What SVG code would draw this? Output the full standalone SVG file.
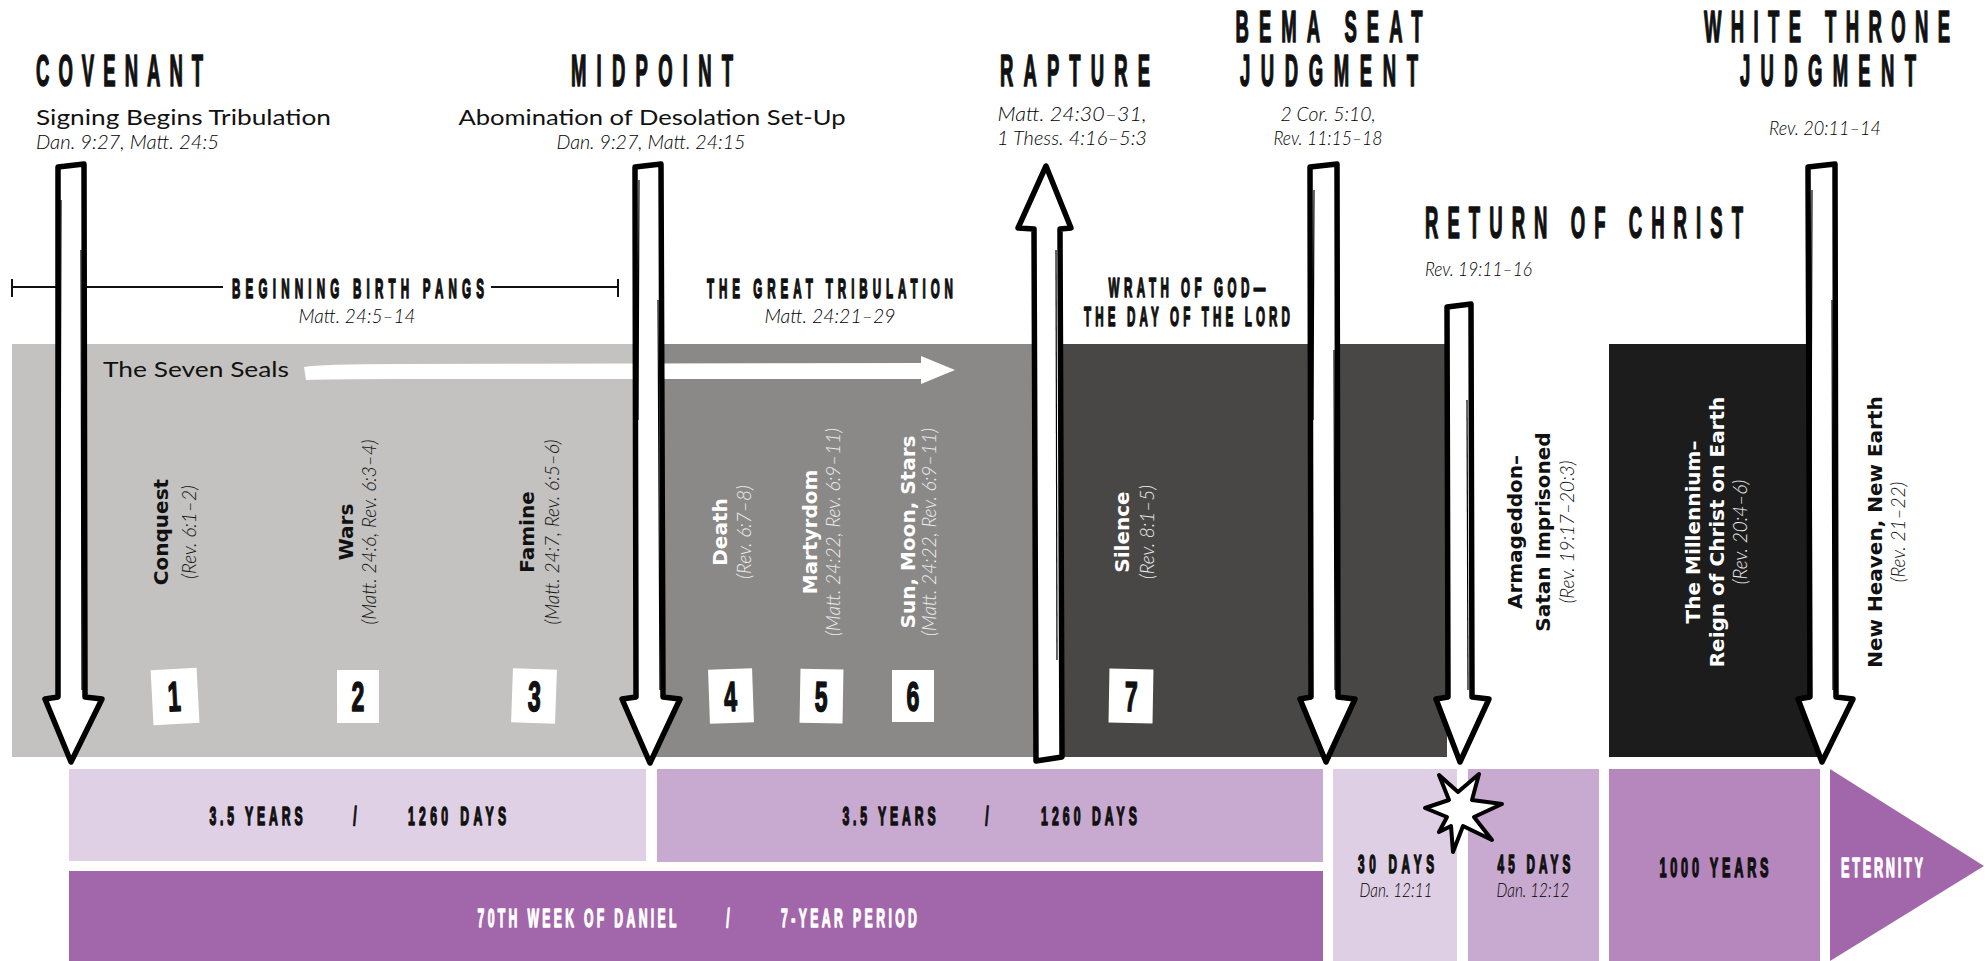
<svg xmlns="http://www.w3.org/2000/svg" width="1988" height="961" viewBox="0 0 1988 961">
<style>
.cond{font-family:"Liberation Sans",Arial,sans-serif;font-weight:700;fill:#111;stroke:#111;stroke-width:1.6;stroke-linejoin:round}
.condw{font-family:"Liberation Sans",Arial,sans-serif;font-weight:700;fill:#fff;stroke:#fff;stroke-width:1.4;stroke-linejoin:round}
.sub{font-family:Lato,"Liberation Sans",Arial,sans-serif;font-size:22px;fill:#111}
.ref{font-family:Lato,"Liberation Sans",Arial,sans-serif;font-style:italic;font-weight:300;font-size:19.5px;fill:#000}
.lbl{font-family:"DejaVu Sans",sans-serif;font-weight:700;font-size:20px;fill:#111}
.lblw{font-family:"DejaVu Sans",sans-serif;font-weight:700;font-size:20px;fill:#fff}
.rref{font-family:Lato,"Liberation Sans",Arial,sans-serif;font-style:italic;font-weight:300;font-size:19px;fill:#111}
.rrefw{font-family:Lato,"Liberation Sans",Arial,sans-serif;font-style:italic;font-weight:300;font-size:19px;fill:#eee}
.arrow{fill:#fff;stroke:#000;stroke-width:5.5;stroke-linejoin:round}
.sketch{fill:none;stroke:#000;stroke-width:1.2}
.box{fill:#fff}
</style>

<!-- bands -->
<g id="bands">
<rect x="12" y="344" width="640" height="413" fill="#c3c2c0"/>
<rect x="650" y="344" width="400" height="413" fill="#8a8988"/>
<rect x="1048" y="344" width="399" height="413" fill="#484746"/>
<rect x="1609" y="344" width="213" height="413" fill="#1c1c1c"/>
</g>

<!-- header brackets -->
<g id="birth-pangs">
<path d="M12,287 H223 M491,287 H618 M12,279 V297 M618,279 V297" stroke="#111" stroke-width="2" fill="none"/>
<text class="cond" font-size="27" text-anchor="middle" transform="translate(358,298) scale(0.43,1)" textLength="586" lengthAdjust="spacing">BEGINNING BIRTH PANGS</text>
<text class="ref" x="357" y="323" text-anchor="middle" textLength="117" lengthAdjust="spacingAndGlyphs">Matt. 24:5–14</text>
</g>
<g id="great-tribulation">
<text class="cond" font-size="27" text-anchor="middle" transform="translate(830,298) scale(0.43,1)" textLength="572" lengthAdjust="spacing">THE GREAT TRIBULATION</text>
<text class="ref" x="830" y="323" text-anchor="middle" textLength="131" lengthAdjust="spacingAndGlyphs">Matt. 24:21–29</text>
</g>
<g id="wrath">
<text class="cond" font-size="27" text-anchor="middle" transform="translate(1187,297) scale(0.43,1)" textLength="365" lengthAdjust="spacing">WRATH OF GOD—</text>
<text class="cond" font-size="27" text-anchor="middle" transform="translate(1187,326) scale(0.43,1)" textLength="479" lengthAdjust="spacing">THE DAY OF THE LORD</text>
</g>

<!-- seven seals -->
<g id="seven-seals">
<text class="sub" x="103" y="377" textLength="186" lengthAdjust="spacingAndGlyphs">The Seven Seals</text>
<path d="M304,367 Q320,364 400,364 L921,363 L921,356 L955,370 L921,384 L921,379 L400,379 Q330,379 306,380 Z" fill="#fff"/>
</g>

<!-- seal labels -->
<g id="seal-1">
<text class="lbl" text-anchor="middle" transform="translate(168,532) rotate(-90)">Conquest</text>
<text class="rref" text-anchor="middle" transform="translate(196,532) rotate(-90)">(Rev. 6:1–2)</text>
<rect class="box" x="152" y="669" width="46" height="55" transform="rotate(-3 175 696)"/>
<text class="cond" font-size="42" text-anchor="middle" transform="translate(175,711) rotate(-3) scale(0.55,1)">1</text>
</g>
<g id="seal-2">
<text class="lbl" text-anchor="middle" transform="translate(353,532) rotate(-90)">Wars</text>
<text class="rref" text-anchor="middle" transform="translate(376,532) rotate(-90)">(Matt. 24:6, Rev. 6:3–4)</text>
<rect class="box" x="337" y="670" width="42" height="53"/>
<text class="cond" font-size="42" text-anchor="middle" transform="translate(358,711) scale(0.55,1)">2</text>
</g>
<g id="seal-3">
<text class="lbl" text-anchor="middle" transform="translate(534,532) rotate(-90)">Famine</text>
<text class="rref" text-anchor="middle" transform="translate(559,532) rotate(-90)">(Matt. 24:7, Rev. 6:5–6)</text>
<rect class="box" x="512" y="669" width="44" height="54" transform="rotate(2 534 696)"/>
<text class="cond" font-size="42" text-anchor="middle" transform="translate(534,711) rotate(2) scale(0.55,1)">3</text>
</g>
<g id="seal-4">
<text class="lblw" text-anchor="middle" transform="translate(727,532) rotate(-90)">Death</text>
<text class="rrefw" text-anchor="middle" transform="translate(751,532) rotate(-90)">(Rev. 6:7–8)</text>
<rect class="box" x="709" y="669" width="44" height="54" transform="rotate(-2 731 696)"/>
<text class="cond" font-size="42" text-anchor="middle" transform="translate(731,711) rotate(-2) scale(0.55,1)">4</text>
</g>
<g id="seal-5">
<text class="lblw" text-anchor="middle" transform="translate(817,532) rotate(-90)">Martyrdom</text>
<text class="rrefw" text-anchor="middle" transform="translate(840,532) rotate(-90)">(Matt. 24:22, Rev. 6:9–11)</text>
<rect class="box" x="800" y="669" width="43" height="54" transform="rotate(1 821 696)"/>
<text class="cond" font-size="42" text-anchor="middle" transform="translate(821,711) rotate(1) scale(0.55,1)">5</text>
</g>
<g id="seal-6">
<text class="lblw" text-anchor="middle" transform="translate(915,532) rotate(-90)">Sun, Moon, Stars</text>
<text class="rrefw" text-anchor="middle" transform="translate(936,532) rotate(-90)">(Matt. 24:22, Rev. 6:9–11)</text>
<rect class="box" x="892" y="670" width="42" height="52"/>
<text class="cond" font-size="42" text-anchor="middle" transform="translate(913,711) scale(0.55,1)">6</text>
</g>
<g id="seal-7">
<text class="lblw" text-anchor="middle" transform="translate(1129,532) rotate(-90)">Silence</text>
<text class="rrefw" text-anchor="middle" transform="translate(1154,532) rotate(-90)">(Rev. 8:1–5)</text>
<rect class="box" x="1109" y="669" width="44" height="54" transform="rotate(1 1131 696)"/>
<text class="cond" font-size="42" text-anchor="middle" transform="translate(1131,711) rotate(1) scale(0.55,1)">7</text>
</g>
<g id="armageddon">
<text class="lbl" text-anchor="middle" transform="translate(1522,532) rotate(-90)">Armageddon–</text>
<text class="lbl" text-anchor="middle" transform="translate(1550,532) rotate(-90)">Satan Imprisoned</text>
<text class="rref" text-anchor="middle" transform="translate(1574,532) rotate(-90)">(Rev. 19:17–20:3)</text>
</g>
<g id="millennium">
<text class="lblw" text-anchor="middle" transform="translate(1700,532) rotate(-90)">The Millennium–</text>
<text class="lblw" text-anchor="middle" transform="translate(1724,532) rotate(-90)">Reign of Christ on Earth</text>
<text class="rrefw" text-anchor="middle" transform="translate(1747,532) rotate(-90)">(Rev. 20:4–6)</text>
</g>
<g id="new-heaven">
<text class="lbl" text-anchor="middle" transform="translate(1882,532) rotate(-90)">New Heaven, New Earth</text>
<text class="rref" text-anchor="middle" transform="translate(1905,532) rotate(-90)">(Rev. 21–22)</text>
</g>

<!-- titles -->
<g id="covenant">
<text class="cond" font-size="44" transform="translate(36,86) scale(0.42,1)" textLength="398" lengthAdjust="spacing">COVENANT</text>
<text class="sub" x="36" y="125" textLength="295" lengthAdjust="spacingAndGlyphs">Signing Begins Tribulation</text>
<text class="ref" x="36" y="149" textLength="183" lengthAdjust="spacingAndGlyphs">Dan. 9:27, Matt. 24:5</text>
</g>
<g id="midpoint">
<text class="cond" font-size="44" text-anchor="middle" transform="translate(652,86) scale(0.42,1)" textLength="386" lengthAdjust="spacing">MIDPOINT</text>
<text class="sub" x="652" y="125" text-anchor="middle" textLength="387" lengthAdjust="spacingAndGlyphs">Abomination of Desolation Set-Up</text>
<text class="ref" x="651" y="149" text-anchor="middle" textLength="189" lengthAdjust="spacingAndGlyphs">Dan. 9:27, Matt. 24:15</text>
</g>
<g id="rapture">
<text class="cond" font-size="44" text-anchor="middle" transform="translate(1075,86) scale(0.42,1)" textLength="357" lengthAdjust="spacing">RAPTURE</text>
<text class="ref" x="1072" y="121" text-anchor="middle" textLength="149" lengthAdjust="spacingAndGlyphs">Matt. 24:30–31,</text>
<text class="ref" x="1072" y="145" text-anchor="middle" textLength="150" lengthAdjust="spacingAndGlyphs">1 Thess. 4:16–5:3</text>
</g>
<g id="bema">
<text class="cond" font-size="44" text-anchor="middle" transform="translate(1329,42) scale(0.42,1)" textLength="445" lengthAdjust="spacing">BEMA SEAT</text>
<text class="cond" font-size="44" text-anchor="middle" transform="translate(1329,86) scale(0.42,1)" textLength="424" lengthAdjust="spacing">JUDGMENT</text>
<text class="ref" x="1328" y="121" text-anchor="middle" textLength="95" lengthAdjust="spacingAndGlyphs">2 Cor. 5:10,</text>
<text class="ref" x="1328" y="145" text-anchor="middle" textLength="109" lengthAdjust="spacingAndGlyphs">Rev. 11:15–18</text>
</g>
<g id="white-throne">
<text class="cond" font-size="44" text-anchor="middle" transform="translate(1827,42) scale(0.42,1)" textLength="586" lengthAdjust="spacing">WHITE THRONE</text>
<text class="cond" font-size="44" text-anchor="middle" transform="translate(1828,86) scale(0.42,1)" textLength="419" lengthAdjust="spacing">JUDGMENT</text>
<text class="ref" x="1825" y="135" text-anchor="middle" textLength="112" lengthAdjust="spacingAndGlyphs">Rev. 20:11–14</text>
</g>
<g id="return">
<text class="cond" font-size="44" transform="translate(1425,238) scale(0.42,1)" textLength="757" lengthAdjust="spacing">RETURN OF CHRIST</text>
<text class="ref" x="1425" y="276" textLength="107" lengthAdjust="spacingAndGlyphs">Rev. 19:11–16</text>
</g>

<!-- arrows -->
<g id="connectors">
<path class="arrow" d="M58,167 L84,164 L85,697 L102,699 L71,762 L45,699 L58,697 Z"/>
<path class="sketch" d="M81,250 L82,690 M61,200 L60,560"/>
<path class="arrow" d="M635,167 L661,164 L663,697 L680,699 L650,763 L622,699 L636,697 Z"/>
<path class="sketch" d="M658,300 L660,690 M639,180 L638,420"/>
<path class="arrow" d="M1310,167 L1337,164 L1338,697 L1355,699 L1326,762 L1300,699 L1311,697 Z"/>
<path class="sketch" d="M1334,350 L1335,690 M1314,190 L1313,420"/>
<path class="arrow" d="M1447,307 L1471,304 L1472,697 L1489,699 L1460,762 L1436,699 L1448,697 Z"/>
<path class="sketch" d="M1467,400 L1468,690"/>
<path class="arrow" d="M1808,167 L1835,164 L1836,697 L1853,699 L1822,762 L1798,699 L1810,697 Z"/>
<path class="sketch" d="M1832,300 L1833,690 M1812,190 L1811,500"/>
<path class="arrow" d="M1046,166 L1071,228 L1060,229 L1062,757 L1036,761 L1034,229 L1018,228 Z"/>
<path class="sketch" d="M1057,660 L1056,250"/>
</g>

<!-- bottom timeline -->
<g id="first-half">
<rect x="69" y="769" width="577" height="92" fill="#dfd0e6"/>
<text class="cond" font-size="26" text-anchor="middle" transform="translate(256,825) scale(0.47,1)" textLength="198" lengthAdjust="spacing">3.5 YEARS</text>
<text class="cond" font-size="26" text-anchor="middle" transform="translate(355,825) scale(0.47,1)">/</text>
<text class="cond" font-size="26" text-anchor="middle" transform="translate(457,825) scale(0.47,1)" textLength="209" lengthAdjust="spacing">1260 DAYS</text>
</g>
<g id="second-half">
<rect x="657" y="769" width="666" height="93" fill="#c8a9d0"/>
<text class="cond" font-size="26" text-anchor="middle" transform="translate(889,825) scale(0.47,1)" textLength="198" lengthAdjust="spacing">3.5 YEARS</text>
<text class="cond" font-size="26" text-anchor="middle" transform="translate(987,825) scale(0.47,1)">/</text>
<text class="cond" font-size="26" text-anchor="middle" transform="translate(1089,825) scale(0.47,1)" textLength="204" lengthAdjust="spacing">1260 DAYS</text>
</g>
<g id="seventieth-week">
<rect x="69" y="871" width="1254" height="90" fill="#a267aa"/>
<text class="condw" font-size="26" text-anchor="middle" transform="translate(577,927) scale(0.47,1)" textLength="423" lengthAdjust="spacing">70TH WEEK OF DANIEL</text>
<text class="condw" font-size="26" text-anchor="middle" transform="translate(728,927) scale(0.47,1)">/</text>
<text class="condw" font-size="26" text-anchor="middle" transform="translate(849,927) scale(0.47,1)" textLength="289" lengthAdjust="spacing">7-YEAR PERIOD</text>
</g>
<g id="thirty-days">
<rect x="1333" y="769" width="124" height="192" fill="#dfcfe5"/>
<text class="cond" font-size="25" text-anchor="middle" transform="translate(1396,873) scale(0.47,1)" textLength="162" lengthAdjust="spacing">30 DAYS</text>
<text class="ref" x="1396" y="897" text-anchor="middle" font-size="18" textLength="73" lengthAdjust="spacingAndGlyphs">Dan. 12:11</text>
</g>
<g id="forty-five-days">
<rect x="1468" y="769" width="131" height="192" fill="#c8a9d0"/>
<text class="cond" font-size="25" text-anchor="middle" transform="translate(1534,873) scale(0.47,1)" textLength="155" lengthAdjust="spacing">45 DAYS</text>
<text class="ref" x="1533" y="897" text-anchor="middle" font-size="18" textLength="73" lengthAdjust="spacingAndGlyphs">Dan. 12:12</text>
</g>
<g id="thousand-years">
<rect x="1609" y="769" width="211" height="192" fill="#b587bc"/>
<text class="cond" font-size="27" text-anchor="middle" transform="translate(1714,877) scale(0.47,1)" textLength="232" lengthAdjust="spacing">1000 YEARS</text>
</g>
<g id="eternity">
<path d="M1830,769 L1984,866 L1830,961 Z" fill="#a267aa"/>
<text class="condw" font-size="27" text-anchor="middle" transform="translate(1882,877) scale(0.47,1)" textLength="174" lengthAdjust="spacing">ETERNITY</text>
</g>
<g id="star">
<path d="M1439,775 L1458,792 L1479,774 L1472,800 L1502,804 L1474,817 L1492,840 L1463,826 L1453,852 L1451,826 L1439,832 L1447,817 L1425,808 L1449,800 Z" fill="#fff" stroke="#000" stroke-width="4" stroke-linejoin="round"/>
</g>
</svg>
